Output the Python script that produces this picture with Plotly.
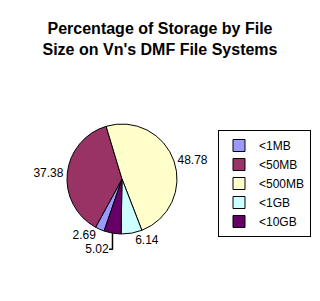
import plotly.graph_objects as go

categories = ["<1MB", "<50MB", "<500MB", "<1GB", "<10GB"]
values = [2.69, 37.38, 48.78, 6.14, 5.02]
colors = ["#9999FF", "#993366", "#FFFFCC", "#CCFFFF", "#660066"]

W, H = 320, 301
cx, cy, r = 122, 179, 55

fig = go.Figure(go.Pie(
    labels=categories,
    values=values,
    sort=False,
    direction="clockwise",
    rotation=199,
    marker=dict(colors=colors, line=dict(color="black", width=1)),
    textinfo="value",
    texttemplate="%{value:.2f}",
    textposition="outside",
    outsidetextfont=dict(family="Liberation Sans, Arial", size=12, color="black"),
    domain=dict(x=[(cx - r) / W, (cx + r) / W], y=[(H - cy - r) / H, (H - cy + r) / H]),
    showlegend=True,
    hoverinfo="label+value",
))

fig.update_layout(
    width=W, height=H,
    margin=dict(l=0, r=0, t=0, b=0),
    paper_bgcolor="white",
    plot_bgcolor="white",
    font=dict(family="Liberation Sans, Arial", size=12, color="black"),
    title=dict(
        text="<b>Percentage of Storage by File<br>Size on Vn's DMF File Systems</b>",
        x=0.5, xanchor="center",
        y=1 - 34 / H, yanchor="top",
        font=dict(family="Liberation Sans, Arial", size=16, color="black"),
    ),
    legend=dict(
        x=311 / W, xanchor="right",
        y=1 - 130 / H, yanchor="top",
        bordercolor="black", borderwidth=1,
        bgcolor="white",
        font=dict(family="Liberation Sans, Arial", size=12, color="black"),
        traceorder="normal",
    ),
)

fig.write_html("out.html")
